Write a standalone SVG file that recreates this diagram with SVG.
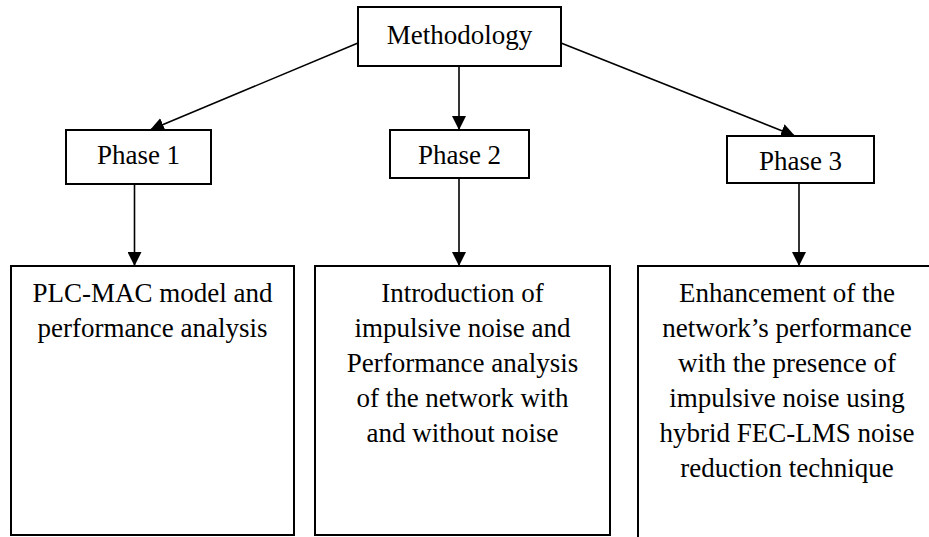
<svg xmlns="http://www.w3.org/2000/svg" width="929" height="537" viewBox="0 0 929 537">
  <style>
    .box { fill: #ffffff; stroke: #000000; stroke-width: 2; }
    .lbl { font-family: "Liberation Serif", "Times New Roman", serif; font-size: 27px; fill: #000000; text-anchor: middle; }
    .edge { stroke: #000000; stroke-width: 1.6; fill: none; marker-end: url(#arrow); }
  </style>
  <defs>
    <marker id="arrow" markerUnits="userSpaceOnUse" markerWidth="14" markerHeight="14" refX="14" refY="7" orient="auto">
      <path d="M0,0 L14,7 L0,14 z" fill="#000000"/>
    </marker>
  </defs>
  <rect width="929" height="537" fill="#ffffff"/>

  <g id="connectors">
    <line class="edge" x1="358" y1="43" x2="150" y2="130"/>
    <line class="edge" x1="459" y1="66" x2="459" y2="130"/>
    <line class="edge" x1="561" y1="43" x2="795" y2="136"/>
    <line class="edge" x1="134.5" y1="184" x2="134.5" y2="266"/>
    <line class="edge" x1="459" y1="178" x2="459" y2="266"/>
    <line class="edge" x1="799" y1="183" x2="799" y2="266"/>
  </g>

  <g id="methodology">
    <rect class="box" x="358" y="7" width="203" height="59"/>
    <text class="lbl" x="459.5" y="44">Methodology</text>
  </g>

  <g id="phase1">
    <rect class="box" x="66" y="130" width="145" height="54"/>
    <text class="lbl" x="138.5" y="164">Phase 1</text>
  </g>

  <g id="phase2">
    <rect class="box" x="390" y="130" width="139" height="48"/>
    <text class="lbl" x="459.5" y="164">Phase 2</text>
  </g>

  <g id="phase3">
    <rect class="box" x="727" y="136" width="147" height="47"/>
    <text class="lbl" x="800.5" y="170">Phase 3</text>
  </g>

  <g id="task1">
    <rect class="box" x="11" y="266" width="283" height="269"/>
    <text class="lbl" x="152.5" y="302">PLC-MAC model and</text>
    <text class="lbl" x="152.5" y="337">performance analysis</text>
  </g>

  <g id="task2">
    <rect class="box" x="315" y="266" width="295" height="269"/>
    <text class="lbl" x="462.5" y="302">Introduction of</text>
    <text class="lbl" x="462.5" y="337">impulsive noise and</text>
    <text class="lbl" x="462.5" y="372">Performance analysis</text>
    <text class="lbl" x="462.5" y="407">of the network with</text>
    <text class="lbl" x="462.5" y="442">and without noise</text>
  </g>

  <g id="task3">
    <rect class="box" x="638" y="266" width="298" height="280"/>
    <text class="lbl" x="787" y="302">Enhancement of the</text>
    <text class="lbl" x="787" y="337">network’s performance</text>
    <text class="lbl" x="787" y="372">with the presence of</text>
    <text class="lbl" x="787" y="407">impulsive noise using</text>
    <text class="lbl" x="787" y="442">hybrid FEC-LMS noise</text>
    <text class="lbl" x="787" y="477">reduction technique</text>
  </g>
</svg>
